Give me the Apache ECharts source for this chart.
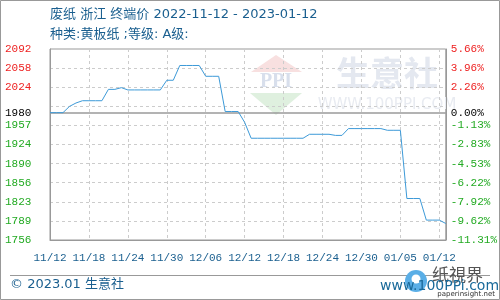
<!DOCTYPE html>
<html>
<head>
<meta charset="utf-8">
<script src="https://cdn.jsdelivr.net/npm/echarts@6/dist/echarts.min.js"></script>
<style>
html,body{margin:0;padding:0;background:#fff;}
#chart{width:500px;height:300px;}
</style>
</head>
<body>
<div id="chart"></div>
<script>
// ---- data ----
var dates = [
  '11/12','11/13','11/14','11/15','11/16','11/17','11/18','11/19','11/20','11/21',
  '11/22','11/23','11/24','11/25','11/26','11/27','11/28','11/29','11/30',
  '12/01','12/02','12/03','12/04','12/05','12/06','12/07','12/08','12/09','12/10',
  '12/11','12/12','12/13','12/14','12/15','12/16','12/17','12/18','12/19','12/20',
  '12/21','12/22','12/23','12/24','12/25','12/26','12/27','12/28','12/29','12/30','12/31',
  '01/01','01/02','01/03','01/04','01/05','01/06','01/07','01/08','01/09','01/10','01/11','01/12'
];
var prices = [
  1980,1980,1980,1991,1997,2001,2001,2001,2001,2021,
  2021,2024,2020,2020,2020,2020,2020,2020,2037,
  2037,2063,2063,2063,2063,2044,2044,2044,1982,1982,
  1982,1963,1935,1935,1935,1935,1935,1935,1935,1935,
  1935,1942,1942,1942,1942,1940,1940,1952,1952,1952,1952,
  1952,1952,1949,1949,1949,1829,1829,1829,1791,1791,1791,1785
];
var baseValue = 1980;
var yMin = 1756, yMax = 2092;
var gridValues = [1756,1789.6,1823.2,1856.8,1890.4,1924,1957.6,1991.2,2024.8,2058.4,2092];
var labelValues = [1756,1789.6,1823.2,1856.8,1890.4,1924,1957.6,1980,2024.8,2058.4,2092];
var leftLabels = ['1756','1789','1823','1856','1890','1924','1957','1980','2024','2058','2092'];
var rightLabels = ['-11.31%','-9.62%','-7.92%','-6.22%','-4.53%','-2.83%','-1.13%','0.00%','2.26%','3.96%','5.66%'];
var xTickLabels = ['11/12','11/18','11/24','11/30','12/06','12/12','12/18','12/24','12/30','01/05','01/12'];

var titleText = '废纸 浙江 终端价 2022-11-12 - 2023-01-12';
var subText = '种类:黄板纸 ;等级: A级:';
var footText = '© 2023.01 生意社';

function idxOf(v){
  for (var i=0;i<labelValues.length;i++){ if (Math.abs(labelValues[i]-v)<0.01) return i; }
  return -1;
}
function labColor(v){
  if (Math.abs(v-baseValue)<0.01) return '#000000';
  return v > baseValue ? '#ee2222' : '#22aa22';
}

var chart = echarts.init(document.getElementById('chart'), null, {renderer:'canvas'});
var axisFont = 'Liberation Mono, DejaVu Sans Mono, monospace';
var blue = '#1a5f8f';

var option = {
  animation: false,
  backgroundColor: '#ffffff',
  grid: {left: 50, right: 50, top: 49, bottom: 60, show: true, borderColor: '#999', borderWidth: 1},
  xAxis: {
    type: 'category',
    data: dates,
    boundaryGap: false,
    axisLine: {show: true, lineStyle: {color: '#999', width: 1}},
    axisTick: {show: false},
    splitLine: {show: true, interval: 5, lineStyle: {color: '#cccccc', type: [3,3], width: 1}},
    axisLabel: {
      interval: 5, margin: 13, color: blue, fontFamily: axisFont, fontSize: 11,
      formatter: function(v, i){ return xTickLabels[Math.round(i/6)] || ''; }
    }
  },
  yAxis: [{
    type: 'value', min: yMin, max: yMax, position: 'left',
    axisLine: {show: true, lineStyle: {color: '#999'}},
    axisTick: {show: false, customValues: gridValues},
    splitLine: {show: true, lineStyle: {color: '#cccccc', type: [3,3], width: 1}},
    axisLabel: {
      customValues: labelValues, align: 'left', margin: 45, fontFamily: axisFont, fontSize: 11,
      color: function(v){ return labColor(v); },
      formatter: function(v){ var i = idxOf(v); return i>=0 ? leftLabels[i] : ''; }
    }
  },{
    type: 'value', min: yMin, max: yMax, position: 'right',
    axisLine: {show: true, lineStyle: {color: '#999'}},
    axisTick: {show: false, customValues: gridValues},
    splitLine: {show: false},
    axisLabel: {
      customValues: labelValues, align: 'left', margin: 5, fontFamily: axisFont, fontSize: 11,
      color: function(v){ return labColor(v); },
      formatter: function(v){ var i = idxOf(v); return i>=0 ? rightLabels[i] : ''; }
    }
  }],
  graphic: [
    {type:'rect', shape:{x:0.5,y:0.5,width:499,height:299}, style:{fill:'none', stroke:'#999', lineWidth:1}, z:100},
    // watermark
    {type:'polygon', shape:{points:[[276,55],[251,72],[302,72]]}, style:{fill:'#f8e0e0'}, z:0},
    {type:'text', x:276, y:82, style:{text:'PPI', font:'bold 20px Liberation Serif, serif', fill:'#d8dfec', align:'center', verticalAlign:'middle'}, z:0},
    {type:'polygon', shape:{points:[[250,93],[302,93],[276,115]]}, style:{fill:'#dff0df'}, z:0},
    {type:'text', x:387, y:73, style:{text:'生意社', font:'bold 34px Noto Sans CJK SC, sans-serif', fill:'#e4e8f0', align:'center', verticalAlign:'middle'}, z:0},
    {type:'text', x:387, y:105, style:{text:'WWW.100PPI.COM', font:'15px DejaVu Sans, sans-serif', fill:'#e8ebf1', align:'center', verticalAlign:'middle'}, z:0},
    // titles
    {type:'text', x:50, y:15, style:{text:titleText, font:'13px DejaVu Sans, Noto Sans CJK SC, sans-serif', fill:blue, verticalAlign:'middle'}},
    {type:'text', x:50, y:35, style:{text:subText, font:'13px DejaVu Sans, Noto Sans CJK SC, sans-serif', fill:blue, verticalAlign:'middle'}},
    // footer
    {type:'line', shape:{x1:10,y1:275.5,x2:490,y2:275.5}, style:{stroke:'#999', lineWidth:1}},
    {type:'text', x:10, y:285, style:{text:footText, font:'13px DejaVu Sans, Noto Sans CJK SC, sans-serif', fill:blue, verticalAlign:'middle'}},
    {type:'circle', shape:{cx:416, cy:281, r:11}, style:{fill:'#5aaee6'}, z:5},
    {type:'circle', shape:{cx:416, cy:279, r:4.5}, style:{fill:'#ffffff'}, z:6},
    {type:'text', x:432, y:275, style:{text:'纸視界', font:'17px Noto Sans CJK SC, sans-serif', fill:'#555', verticalAlign:'middle'}, z:7},
    {type:'text', x:380, y:286, style:{text:'www.100PPi.com', font:'14px DejaVu Sans, sans-serif', fill:'#1a6a9a', verticalAlign:'middle'}, z:8},
    {type:'text', x:495, y:294, style:{text:'paperinsight.net', font:'7px DejaVu Sans, sans-serif', fill:'#333', align:'right', verticalAlign:'middle'}, z:8}
  ],
  series: [{
    type: 'line',
    data: prices,
    symbol: 'none',
    lineStyle: {color: '#3d9ad8', width: 1},
    z: 5,
    markLine: {
      silent: true, symbol: 'none', label: {show: false},
      lineStyle: {color: '#9a9a9a', type: 'solid', width: 1.5},
      data: [{yAxis: baseValue}],
      z: 3
    }
  }]
};
chart.setOption(option);
</script>
</body>
</html>
